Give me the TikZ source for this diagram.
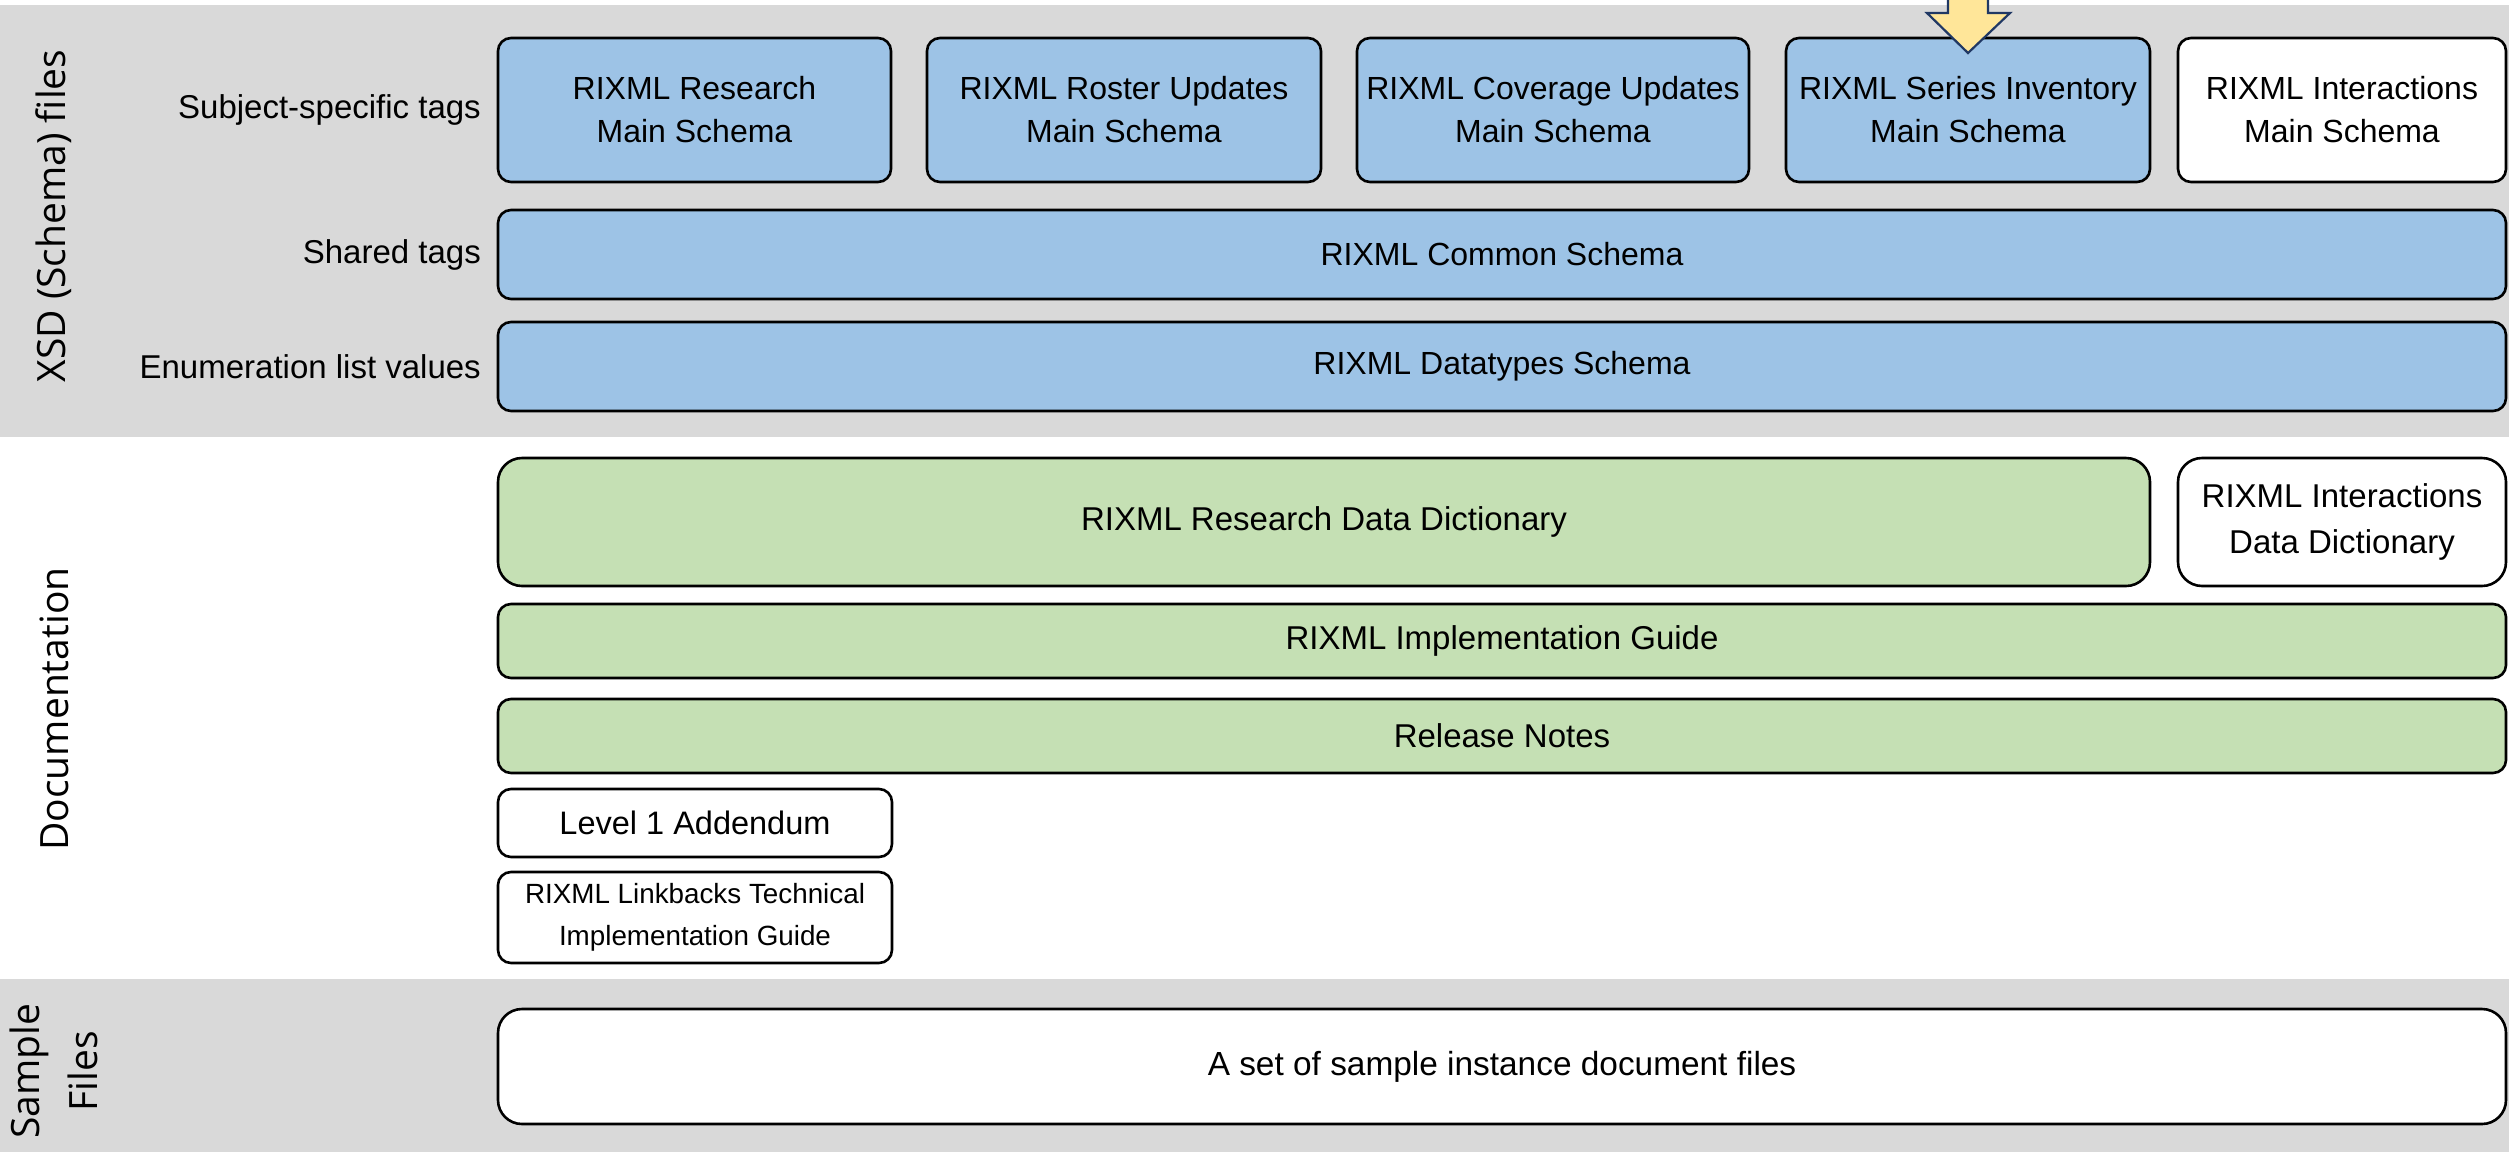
\documentclass[tikz,border=0pt]{standalone}
\usepackage{fontspec}
\setmainfont{Liberation Sans}
\newfontfamily\labfont{Open Sans}
\definecolor{bandgray}{HTML}{D9D9D9}
\definecolor{boxblue}{HTML}{9DC3E6}
\definecolor{boxgreen}{HTML}{C5E0B4}
\definecolor{arrowyellow}{HTML}{FFE699}
\definecolor{arrownavy}{HTML}{203864}
\begin{document}
\begin{tikzpicture}[x=1pt,y=-1pt,
  bx/.style={draw=black, line width=2.6pt, rounded corners=13pt, align=center, inner sep=0pt,
     font=\fontsize{32}{43}\selectfont},
  bigbx/.style={bx, rounded corners=24pt},
  rowlab/.style={anchor=east, inner sep=0pt, font=\fontsize{33}{40}\selectfont},
  sidelab/.style={rotate=90, inner sep=0pt, align=center, font=\labfont\fontsize{39}{58}\selectfont}]
\useasboundingbox (0,0) rectangle (2509,1152);
\fill[white] (0,0) rectangle (2509,1152);
\fill[bandgray] (0,5) rectangle (2509,437);
\fill[bandgray] (0,979) rectangle (2509,1152);

% side labels
\node[sidelab] (xsd) at (54,216) {XSD (Schema) files};
\node[sidelab] (doc) at (54,709) {Documentation};
\node[sidelab] (smp) at (54,1071) {Sample\\Files};

% row labels
\node[rowlab] (lsub) at (481,110) {Subject-specific tags};
\node[rowlab] (lsh) at (481,254.5) {Shared tags};
\node[rowlab] (len) at (481,366.5) {Enumeration list values};

% schema boxes
\node[bx, fill=boxblue, minimum width=393pt, minimum height=144pt] (b1) at (694.5,110) {RIXML Research\\Main Schema};
\node[bx, fill=boxblue, minimum width=394pt, minimum height=144pt] (b2) at (1124,110) {RIXML Roster Updates\\Main Schema};
\node[bx, fill=boxblue, minimum width=392pt, minimum height=144pt] (b3) at (1553,110) {RIXML Coverage Updates\\Main Schema};
\node[bx, fill=boxblue, minimum width=364pt, minimum height=144pt] (b4) at (1968,110) {RIXML Series Inventory\\Main Schema};
\node[bx, fill=white, minimum width=328pt, minimum height=144pt] (b5) at (2342,110) {RIXML Interactions\\Main Schema};
\node[bx, fill=boxblue, minimum width=2008pt, minimum height=89pt] (common) at (1502,254.5) {RIXML Common Schema};
\node[bx, fill=boxblue, minimum width=2008pt, minimum height=89pt] (dtypes) at (1502,366.5) {RIXML Datatypes Schema};

% documentation
\node[bigbx, fill=boxgreen, minimum width=1652pt, minimum height=128pt, font=\fontsize{33}{46}\selectfont] (rdd) at (1324,522) {RIXML Research Data Dictionary};
\node[bigbx, fill=white, minimum width=328pt, minimum height=128pt, font=\fontsize{33}{46}\selectfont] (idd) at (2342,522) {RIXML Interactions\\Data Dictionary};
\node[bx, fill=boxgreen, minimum width=2008pt, minimum height=74pt, font=\fontsize{33}{40}\selectfont] (impl) at (1502,641) {RIXML Implementation Guide};
\node[bx, fill=boxgreen, minimum width=2008pt, minimum height=74pt, font=\fontsize{33}{40}\selectfont] (rel) at (1502,736) {Release Notes};
\node[bx, fill=white, minimum width=394pt, minimum height=68pt, font=\fontsize{32.5}{40}\selectfont] (lvl) at (695,823) {Level 1 Addendum};
\node[bx, fill=white, minimum width=394pt, minimum height=91pt, font=\fontsize{27.8}{42}\selectfont] (link) at (695,917.5) {RIXML Linkbacks Technical\\Implementation Guide};

% sample files
\node[bigbx, fill=white, minimum width=2008pt, minimum height=115pt, font=\fontsize{33.4}{40}\selectfont] (sample) at (1502,1066.5) {A set of sample instance document files};

% arrow pointing at series inventory
\draw[fill=arrowyellow, draw=arrownavy, line width=2.2pt, line join=miter]
  (1948,-5) -- (1988,-5) -- (1988,13) -- (2010,13) -- (1968,53) -- (1927,13) -- (1948,13) -- cycle;
\end{tikzpicture}
\end{document}
